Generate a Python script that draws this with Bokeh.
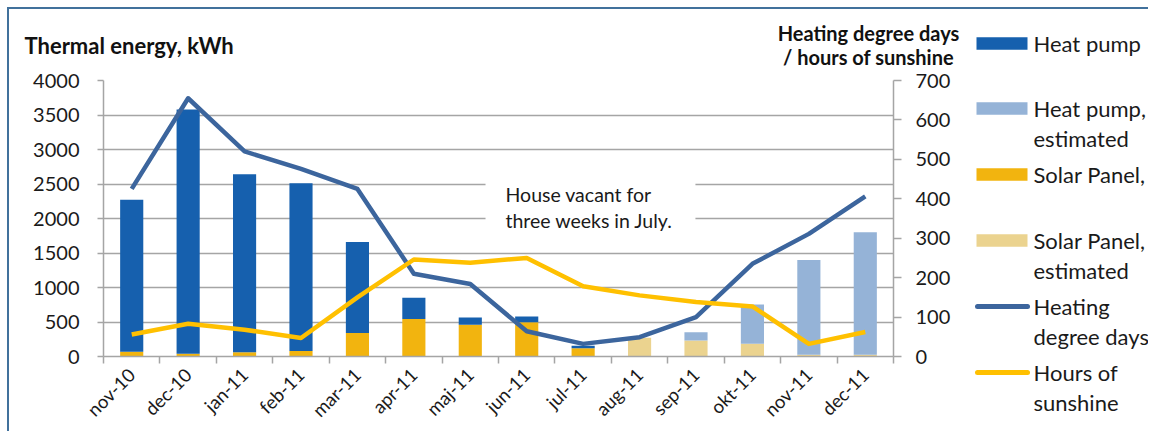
import math
from bokeh.plotting import figure
from bokeh.models import Range1d, LinearAxis, FixedTicker, Label, BoxAnnotation, ColumnDataSource
from bokeh.layouts import row, column
from bokeh.embed import file_html
from bokeh.resources import INLINE
from bokeh.core.properties import value

# ---------------- data ----------------
months = ["nov-10", "dec-10", "jan-11", "feb-11", "mar-11", "apr-11", "maj-11",
          "jun-11", "jul-11", "aug-11", "sep-11", "okt-11", "nov-11", "dec-11"]
heat_pump = [2200, 3540, 2580, 2430, 1320, 305, 105, 85, 35, 0, 0, 0, 0, 0]
heat_pump_est = [0, 0, 0, 0, 0, 0, 0, 0, 0, 0, 120, 570, 1375, 1775]
solar_panel = [70, 40, 60, 80, 340, 545, 460, 495, 120, 0, 0, 0, 0, 0]
solar_panel_est = [0, 0, 0, 0, 0, 0, 0, 0, 0, 270, 232, 184, 25, 25]
heating_degree_days = [425, 655, 520, 476, 425, 210, 184, 64, 32, 49, 100, 235, 311, 406]
hours_sunshine = [56, 83, 68, 47, 150, 246, 238, 250, 178, 155, 138, 127, 32, 62]
left_ticks = [0, 500, 1000, 1500, 2000, 2500, 3000, 3500, 4000]
right_ticks = [0, 100, 200, 300, 400, 500, 600, 700]

left_title = "Thermal energy, kWh"
right_title = ["Heating degree days", "/ hours of sunshine"]
note = ["House vacant for", "three weeks in July."]
legend_labels = [["Heat pump"], ["Heat pump,", "estimated"], ["Solar Panel,"],
                 ["Solar Panel,", "estimated"], ["Heating", "degree days"],
                 ["Hours of", "sunshine"]]

# ---------------- style ----------------
C_HP = "#1660AE"
C_HPE = "#95B3D7"
C_SP = "#F2B40F"
C_SPE = "#EBD38F"
C_HDD = "#3C659D"
C_SUN = "#FFC000"
GRID = "#A5A5A5"
TXT = "#1a1a1a"
FONT = "Lato"

xs = list(range(len(months)))
src = ColumnDataSource(dict(x=xs, solar=solar_panel, solar_est=solar_panel_est,
                            heat=heat_pump, heat_est=heat_pump_est,
                            hdd=heating_degree_days, sun=hours_sunshine))

W1, W2 = 956, 183
HT, HM = 59, 363
HL = HT + HM


def blank(fig):
    fig.axis.visible = False
    fig.grid.visible = False
    fig.outline_line_color = None
    fig.background_fill_color = "white"
    fig.border_fill_color = "white"


# ---------------- title strip ----------------
tfig = figure(width=W1, height=HT, output_backend="svg", toolbar_location=None,
              x_range=Range1d(0, W1), y_range=Range1d(HT, 0), min_border=0,
              frame_align=False)
blank(tfig)
tfig.text(x=[15], y=[35.5], text=[left_title], text_font=value(FONT),
          text_font_size="22px", text_font_style="bold", text_color="#111111",
          text_baseline="middle", text_align="left")
for k, t in enumerate(right_title):
    tfig.text(x=[859], y=[23 + 24 * k], text=[t], text_font=value(FONT),
              text_font_size="20px", text_font_style="bold", text_color="#111111",
              text_baseline="middle", text_align="center")

# ---------------- main chart ----------------
p = figure(width=W1, height=HM, output_backend="svg", toolbar_location=None,
           x_range=Range1d(-0.5, len(months) - 0.5), y_range=Range1d(0, 4000),
           min_border_left=94, min_border_right=72, min_border_top=12, min_border_bottom=75,
           frame_align=False)
p.outline_line_color = None
p.background_fill_color = "white"
p.border_fill_color = "white"
p.extra_y_ranges = {"r": Range1d(0, 700)}

# x axis
xa = p.xaxis[0]
xa.ticker = FixedTicker(ticks=xs, minor_ticks=[i - 0.5 for i in range(len(months) + 1)])
xa.major_label_overrides = {i: m for i, m in enumerate(months)}
xa.major_label_orientation = math.pi / 4
xa.major_tick_line_color = None
xa.major_tick_out = 7
xa.major_tick_in = 0
xa.minor_tick_line_color = GRID
xa.minor_tick_line_width = 1.5
xa.minor_tick_out = 7
xa.minor_tick_in = 0
xa.axis_line_color = GRID
xa.axis_line_width = 1.5
xa.major_label_text_font = FONT
xa.major_label_text_font_size = "18.5px"
xa.major_label_text_color = TXT
xa.major_label_standoff = 8
p.xgrid.visible = False

# left axis
ya = p.yaxis[0]
ya.ticker = FixedTicker(ticks=left_ticks)
ya.major_tick_out = 6
ya.major_tick_in = 0
ya.major_tick_line_color = GRID
ya.major_tick_line_width = 1.5
ya.minor_tick_line_color = None
ya.axis_line_color = GRID
ya.axis_line_width = 1.5
ya.major_label_text_font = FONT
ya.major_label_text_font_size = "20px"
ya.major_label_text_color = TXT
ya.major_label_standoff = 18
p.ygrid.grid_line_color = GRID
p.ygrid.grid_line_width = 1.5

# right axis
ra = LinearAxis(y_range_name="r", ticker=FixedTicker(ticks=right_ticks))
ra.major_tick_out = 8
ra.major_tick_in = 0
ra.major_tick_line_color = GRID
ra.major_tick_line_width = 1.5
ra.minor_tick_line_color = None
ra.axis_line_color = GRID
ra.axis_line_width = 1.5
ra.major_label_text_font = FONT
ra.major_label_text_font_size = "20px"
ra.major_label_text_color = TXT
ra.major_label_standoff = 14
p.add_layout(ra, "right")

# bars
p.vbar_stack(["solar", "solar_est", "heat", "heat_est"], x="x", width=0.41,
             color=[C_SP, C_SPE, C_HP, C_HPE], line_color=None, source=src)

# lines
p.line("x", "hdd", source=src, y_range_name="r", line_width=4.5, line_color=C_HDD,
       line_join="round")
p.line("x", "sun", source=src, y_range_name="r", line_width=4.5, line_color=C_SUN,
       line_join="round")

# note box (hides gridlines behind text)
p.add_layout(BoxAnnotation(left=6.27, right=9.99, top=2660, bottom=1690,
                           fill_color="white", fill_alpha=1.0, line_color=None,
                           level="underlay"))
for k, t in enumerate(note):
    p.add_layout(Label(x=402, y=161.6 - 26 * k, x_units="screen", y_units="screen",
                       text=t, text_font=FONT, text_font_size="19.5px",
                       text_color=TXT, text_baseline="middle", text_align="left"))

# ---------------- legend strip ----------------
leg = figure(width=W2, height=HL, output_backend="svg", toolbar_location=None,
             x_range=Range1d(0, W2), y_range=Range1d(HL, 0), min_border=0,
             frame_align=False)
blank(leg)

entry_y = [34, 99, 165, 231, 297, 363]
kinds = ["box", "box", "box", "box", "line", "line"]
colors = [C_HP, C_HPE, C_SP, C_SPE, C_HDD, C_SUN]
for yc, kind, col, lines in zip(entry_y, kinds, colors, legend_labels):
    if kind == "box":
        leg.quad(left=[11], right=[62], top=[yc - 6.3], bottom=[yc + 6.3],
                 fill_color=col, line_color=None)
    else:
        leg.line(x=[12, 62], y=[yc, yc], line_width=5, line_color=col, line_cap="round")
    for k, t in enumerate(lines):
        leg.text(x=[68], y=[yc + k * 29.5], text=[t], text_font=value(FONT),
                 text_font_size="22px", text_baseline="middle", text_align="left",
                 text_color=TXT)

layout = row(column(tfig, p), leg,
             styles={"margin-left": "7px", "margin-top": "7px",
                     "border-left": "2px solid #41719C",
                     "border-top": "2px solid #41719C"})

open("out.html", "w").write(file_html(layout, INLINE))
